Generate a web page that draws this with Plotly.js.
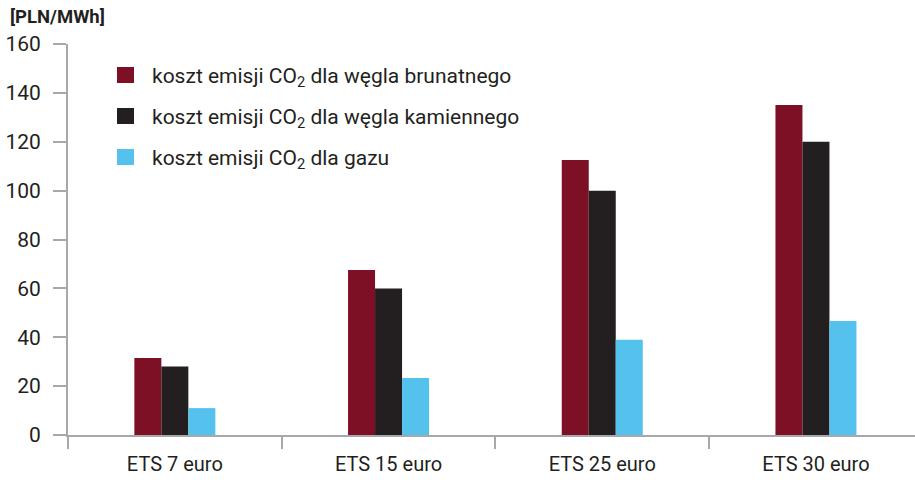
<!DOCTYPE html>
<html>
<head>
<meta charset="utf-8">
<script src="https://cdn.plot.ly/plotly-3.0.1.min.js"></script>
<style>html,body{margin:0;padding:0;background:#fff;}#chart{width:915px;height:482px;}</style>
</head>
<body>
<div id="chart"></div>
<script>
const categories = ["ETS 7 euro", "ETS 15 euro", "ETS 25 euro", "ETS 30 euro"];
const seriesNames = [
  "koszt emisji CO<sub>2</sub> dla węgla brunatnego",
  "koszt emisji CO<sub>2</sub> dla węgla kamiennego",
  "koszt emisji CO<sub>2</sub> dla gazu"
];
const lignite = [31.5, 67.5, 112.5, 135];
const hardCoal = [28, 60, 100, 120];
const gas = [11, 23.3, 39, 46.7];
const yTicks = [0, 20, 40, 60, 80, 100, 120, 140, 160];
const unitLabel = "[PLN/MWh]";

const colors = ["#7d1025", "#231f20", "#55c1ed"];
const values = [lignite, hardCoal, gas];
const font = "Roboto, 'Open Sans', sans-serif";
const textColor = "#231f20";
const axisColor = "#a6a8ab";

const traces = values.map((v, i) => ({
  type: "bar",
  x: categories,
  y: v,
  name: seriesNames[i],
  marker: {color: colors[i], line: {width: 0}},
  hoverinfo: "x+y",
  showlegend: false
}));

const W = 915, H = 482;
const margin = {l: 68, r: 0, t: 44, b: 47};
const plotH = H - margin.t - margin.b;
const plotW = W - margin.l - margin.r;

// legend drawn as shapes + annotations
const legX0 = (117 - margin.l) / plotW;
const legX1 = (134 - margin.l) / plotW;
const legTextX = (150 - margin.l) / plotW;
const rowY = [75, 116, 157];
const shapes = [];
const annotations = [];
seriesNames.forEach((n, i) => {
  const yc = rowY[i];
  shapes.push({
    type: "rect", xref: "paper", yref: "paper",
    x0: legX0, x1: legX1,
    y0: (H - margin.b - (yc + 8)) / plotH,
    y1: (H - margin.b - (yc - 8)) / plotH,
    fillcolor: colors[i], line: {width: 0}
  });
  annotations.push({
    xref: "paper", yref: "paper",
    x: legTextX, y: (H - margin.b - yc - 2) / plotH,
    xanchor: "left", yanchor: "middle",
    text: n, showarrow: false,
    font: {family: font, size: 21, color: textColor}
  });
});
annotations.push({
  xref: "paper", yref: "paper",
  x: (8 - margin.l) / plotW, y: (H - margin.b - 17) / plotH,
  xanchor: "left", yanchor: "middle",
  text: "<b>" + unitLabel + "</b>", showarrow: false,
  font: {family: font, size: 18.5, color: textColor}
});

const layout = {
  width: W, height: H,
  margin: margin,
  paper_bgcolor: "#fff", plot_bgcolor: "#fff",
  font: {family: font, color: textColor, size: 19},
  barmode: "group",
  bargap: 0.621,
  bargroupgap: 0,
  xaxis: {
    type: "category",
    range: [-0.5, (W - margin.l) / 213.7 - 0.5],
    showline: true, linecolor: axisColor, linewidth: 2,
    ticks: "outside", tickson: "boundaries", ticklen: 12, tickwidth: 2, tickcolor: axisColor,
    showgrid: false, zeroline: false,
    tickfont: {family: font, size: 20, color: textColor},
    ticklabelstandoff: 10
  },
  yaxis: {
    range: [0, 160],
    tickvals: yTicks,
    ticktext: yTicks.map(String),
    showline: true, linecolor: axisColor, linewidth: 2,
    ticks: "outside", ticklen: 13, tickwidth: 2, tickcolor: axisColor,
    showgrid: false, zeroline: false,
    tickfont: {family: font, size: 21, color: textColor},
    ticklabelstandoff: 8
  },
  shapes: shapes,
  annotations: annotations
};

Plotly.newPlot("chart", traces, layout, {displayModeBar: false, staticPlot: true});
</script>
</body>
</html>
